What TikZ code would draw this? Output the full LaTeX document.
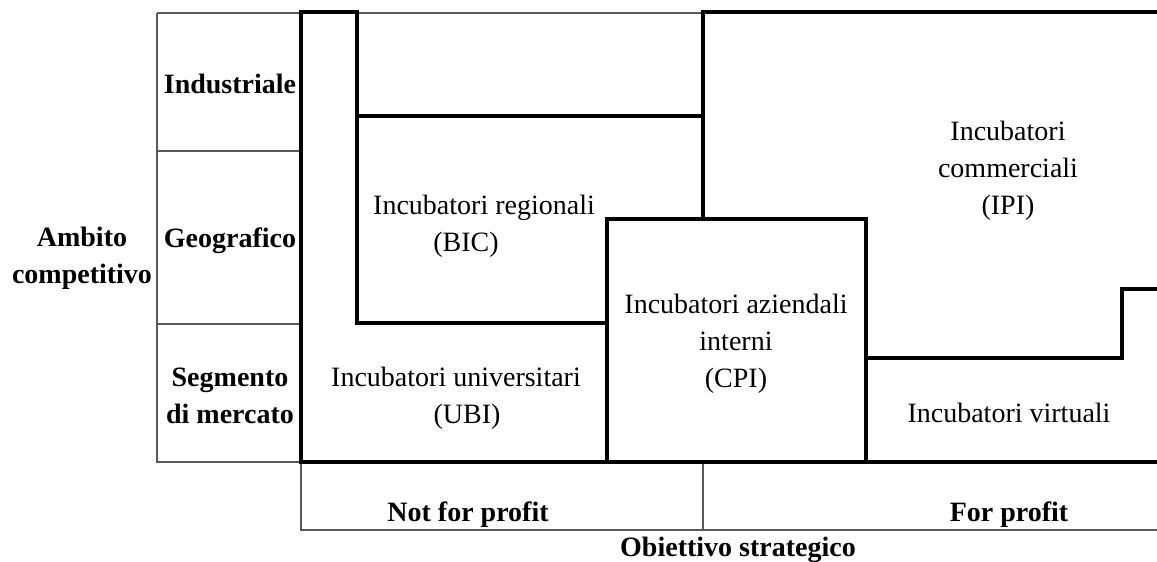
\documentclass[tikz,border=0pt]{standalone}
\usepackage{fontspec}
\setmainfont{Liberation Serif}
\begin{document}
\begin{tikzpicture}[x=0.5pt,y=-0.5pt,
  thinrule/.style={draw=black!65,line width=0.6pt},
  thickrule/.style={draw=black,line width=2pt,line join=miter,line cap=rect},
  lbl/.style={inner sep=0pt,align=center,font=\fontsize{14}{18.5}\selectfont},
  hdr/.style={inner sep=0pt,align=center,font=\fontsize{14}{18.5}\selectfont\bfseries}]
\useasboundingbox (0,0) rectangle (1157,562);

% thin frame: row headers and column headers
\draw[thinrule] (157,13) -- (1157,13);
\draw[thinrule] (157,13) -- (157,462) -- (301,462);
\draw[thinrule] (157,151) -- (301,151);
\draw[thinrule] (157,324) -- (301,324);
\draw[thinrule] (301,462) -- (301,530) -- (1157,530);
\draw[thinrule] (703,462) -- (703,530);

% thick region borders
\draw[thickrule] (301,462) -- (301,12) -- (357,12) -- (357,323) -- (607,323);
\draw[thickrule] (357,116) -- (703,116);
\draw[thickrule] (703,219) -- (703,12) -- (1160,12);
\draw[thickrule] (607,219) rectangle (866,462);
\draw[thickrule] (866,358) -- (1122,358) -- (1122,289) -- (1160,289);
\draw[thickrule] (301,462) -- (1160,462);

% row headers
\node[hdr] (ind) at (230,84) {Industriale};
\node[hdr] (geo) at (230,241) {Geografico};
\node[hdr] (seg) at (230,396) {Segmento\\di mercato};
\node[hdr] (amb) at (82,258) {Ambito\\competitivo};

% column headers
\node[hdr] (nfp) at (468,515) {Not for profit};
\node[hdr] (fp) at (1009,515) {For profit};
\node[hdr] (obj) at (738,550) {Obiettivo strategico};

% regions
\node[lbl] (bic) at (484,226) {Incubatori regionali\\(BIC)\hspace*{18pt}};
\node[lbl] (ipi) at (1008,171) {Incubatori\\commerciali\\(IPI)};
\node[lbl] (cpi) at (736,344) {Incubatori aziendali\\interni\\(CPI)};
\node[lbl] (ubi) at (456,398) {Incubatori universitari\\\hspace*{11pt}(UBI)};
\node[lbl] (vir) at (1009,413) {Incubatori virtuali};
\end{tikzpicture}
\end{document}
